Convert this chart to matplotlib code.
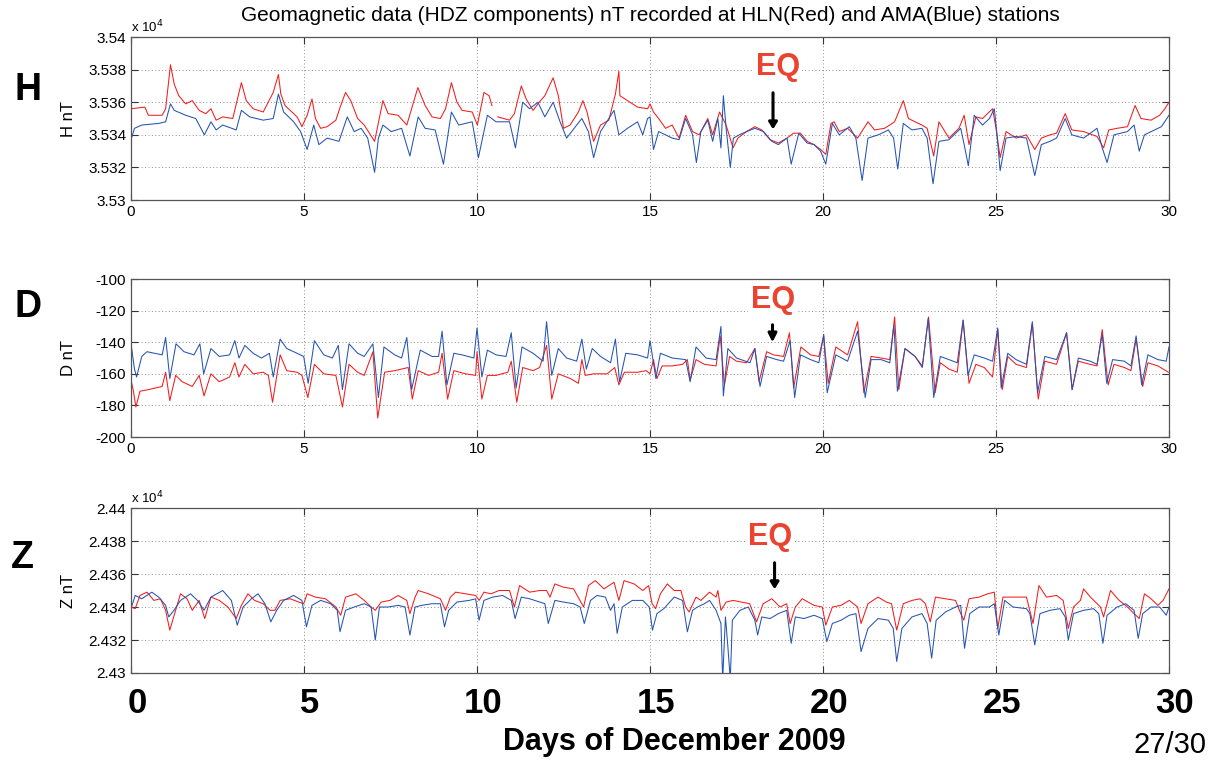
import numpy as np
import matplotlib
matplotlib.use("Agg")
import matplotlib.pyplot as plt
from matplotlib.ticker import FuncFormatter, MultipleLocator
from matplotlib.transforms import ScaledTranslation

plt.rcParams['font.family'] = ['Liberation Sans', 'DejaVu Sans']

nan = np.nan

# ---- H component (nT), HLN = red, AMA = blue ----
h_hln_days = [0.0, 0.4, 0.5, 0.9, 1.0, 1.14, 1.25, 1.38, 1.58, 1.77, 1.97, 2.16, 2.31, 2.46, 2.65, 2.94,
              3.19, 3.33, 3.53, 3.82, 4.11, 4.26, 4.33, 4.45, 4.6, 4.8, 4.94, 5.09, 5.23, 5.33, 5.48,
              5.67, 5.92, 6.06, 6.2, 6.35, 6.55, 6.74, 7.04, 7.28, 7.43, 7.72, 7.97, 8.29, 8.5, 8.7,
              8.94, 9.09, 9.26, 9.42, 9.57, 9.86, 10.01, 10.2, 10.35, 10.43, 10.5, 10.6, 10.94, 11.08,
              11.28, 11.42, 11.62, 11.76, 11.96, 12.2, 12.35, 12.5, 12.69, 12.93, 13.06, 13.18, 13.37,
              13.57, 13.81, 14.0, 14.1, 14.13, 14.35, 14.64, 14.93, 15.0, 15.1, 15.25, 15.45, 15.64,
              15.84, 16.03, 16.23, 16.42, 16.67, 16.81, 17.01, 17.2, 17.4, 17.54, 17.79, 18.03, 18.23,
              18.47, 18.71, 18.96, 19.15, 19.35, 19.54, 19.74, 19.93, 20.08, 20.23, 20.32, 20.47, 20.71,
              21.0, 21.3, 21.49, 21.78, 22.07, 22.32, 22.47, 22.66, 22.86, 23.01, 23.2, 23.35, 23.64,
              23.93, 24.08, 24.22, 24.42, 24.61, 24.9, 25.0, 25.12, 25.29, 25.58, 25.88, 26.12, 26.31,
              26.56, 26.75, 27.0, 27.19, 27.53, 27.92, 28.11, 28.26, 28.5, 28.8, 29.02, 29.19, 29.48,
              29.73, 29.88, 30.0]
h_hln = [35356, 35357, 35352, 35352, 35356, 35383, 35371, 35364, 35359, 35361, 35355, 35353, 35356, 35349,
         35351, 35350, 35372, 35361, 35356, 35354, 35366, 35377, 35365, 35358, 35355, 35351, 35345, 35352,
         35362, 35350, 35344, 35345, 35349, 35358, 35366, 35361, 35350, 35346, 35336, 35361, 35353, 35352,
         35346, 35369, 35358, 35351, 35350, 35356, 35372, 35360, 35355, 35354, 35346, 35366, 35364, 35358,
         nan, 35351, 35349, 35353, 35370, 35362, 35355, 35359, 35364, 35375, 35364, 35344, 35346, 35354,
         35361, 35354, 35336, 35346, 35349, 35365, 35379, 35364, 35361, 35357, 35356, 35359, 35354, 35350,
         35344, 35346, 35338, 35352, 35342, 35340, 35350, 35340, 35354, 35346, 35332, 35338, 35342, 35345,
         35343, 35337, 35335, 35338, 35341, 35341, 35336, 35334, 35331, 35328, 35347, 35348, 35342, 35344,
         35338, 35348, 35343, 35344, 35348, 35361, 35350, 35348, 35346, 35344, 35327, 35348, 35338, 35344,
         35352, 35334, 35351, 35350, 35356, 35344, 35326, 35342, 35338, 35340, 35331, 35338, 35340, 35341,
         35353, 35343, 35342, 35339, 35332, 35343, 35344, 35345, 35358, 35350, 35349, 35352, 35356, 35360]

h_ama_days = [0.0, 0.1, 0.31, 0.8, 1.0, 1.14, 1.25, 1.58, 1.87, 2.12, 2.31, 2.46, 2.65, 3.04, 3.19, 3.43,
              3.82, 4.11, 4.26, 4.41, 4.7, 4.9, 5.09, 5.28, 5.43, 5.67, 6.01, 6.25, 6.45, 6.65, 6.84,
              7.04, 7.15, 7.28, 7.52, 7.82, 8.06, 8.3, 8.5, 8.79, 9.03, 9.26, 9.47, 9.86, 10.04, 10.3,
              10.55, 10.94, 11.11, 11.32, 11.52, 11.76, 11.96, 12.2, 12.4, 12.59, 12.88, 13.03, 13.22,
              13.37, 13.57, 13.96, 14.1, 14.35, 14.64, 14.79, 14.93, 15.0, 15.1, 15.25, 15.45, 15.64,
              15.84, 16.03, 16.23, 16.34, 16.47, 16.67, 16.81, 16.96, 17.05, 17.12, 17.2, 17.32, 17.41,
              17.58, 17.79, 18.03, 18.28, 18.52, 18.71, 18.96, 19.08, 19.3, 19.54, 19.74, 19.93, 20.08,
              20.27, 20.47, 20.76, 20.95, 21.13, 21.3, 21.6, 21.89, 22.04, 22.16, 22.32, 22.57, 22.86,
              23.01, 23.18, 23.35, 23.64, 23.98, 24.08, 24.2, 24.37, 24.61, 24.81, 24.95, 25.02, 25.12,
              25.29, 25.58, 25.88, 26.12, 26.31, 26.56, 26.75, 27.0, 27.19, 27.53, 27.92, 28.07, 28.21,
              28.41, 28.8, 28.99, 29.14, 29.29, 29.58, 29.78, 30.0]
h_ama = [35337, 35344, 35346, 35347, 35348, 35359, 35355, 35352, 35350, 35340, 35348, 35343, 35346, 35343,
         35355, 35351, 35349, 35350, 35365, 35354, 35348, 35342, 35331, 35346, 35334, 35338, 35336, 35351,
         35342, 35344, 35338, 35317, 35338, 35346, 35342, 35344, 35327, 35351, 35344, 35343, 35322, 35354,
         35346, 35348, 35326, 35352, 35348, 35348, 35332, 35360, 35356, 35360, 35351, 35360, 35348, 35338,
         35346, 35350, 35342, 35326, 35342, 35355, 35340, 35344, 35348, 35340, 35350, 35351, 35331, 35342,
         35340, 35338, 35337, 35350, 35340, 35323, 35342, 35349, 35336, 35350, 35332, 35364, 35344, 35320,
         35338, 35340, 35342, 35344, 35342, 35336, 35334, 35338, 35322, 35341, 35335, 35334, 35330, 35322,
         35347, 35340, 35345, 35338, 35312, 35338, 35340, 35343, 35338, 35319, 35347, 35343, 35344, 35338,
         35310, 35336, 35337, 35344, 35334, 35321, 35352, 35346, 35350, 35356, 35342, 35318, 35338, 35339,
         35338, 35315, 35334, 35336, 35338, 35350, 35340, 35338, 35344, 35332, 35323, 35340, 35342, 35346,
         35330, 35340, 35343, 35345, 35352]

# ---- D component (nT) ----
d_hln_days = [0.0, 0.07, 0.14, 0.26, 0.5, 0.9, 1.0, 1.12, 1.29, 1.48, 1.77, 1.97, 2.11, 2.31, 2.55, 2.85,
              3.0, 3.12, 3.29, 3.53, 3.82, 3.97, 4.09, 4.31, 4.5, 4.8, 4.94, 5.11, 5.3, 5.57, 5.92, 6.11,
              6.3, 6.55, 6.74, 6.99, 7.13, 7.33, 7.62, 8.01, 8.13, 8.3, 8.6, 8.89, 8.99, 9.15, 9.33,
              9.67, 9.96, 10.0, 10.14, 10.3, 10.55, 10.89, 10.99, 11.15, 11.32, 11.62, 11.81, 12.01,
              12.16, 12.35, 12.7, 12.93, 13.03, 13.13, 13.37, 13.76, 13.98, 14.1, 14.26, 14.64, 14.89,
              15.0, 15.1, 15.2, 15.35, 15.64, 15.94, 16.08, 16.16, 16.33, 16.57, 16.91, 17.03, 17.15,
              17.3, 17.5, 17.79, 18.03, 18.15, 18.37, 18.57, 18.86, 19.03, 19.15, 19.36, 19.64, 19.88,
              20.02, 20.15, 20.37, 20.71, 21.0, 21.18, 21.39, 21.68, 21.93, 22.07, 22.19, 22.37, 22.66,
              22.87, 23.05, 23.24, 23.39, 23.64, 23.88, 24.05, 24.22, 24.42, 24.66, 24.9, 25.05, 25.18,
              25.34, 25.58, 25.88, 26.05, 26.22, 26.41, 26.75, 27.04, 27.2, 27.38, 27.72, 27.92, 28.07,
              28.24, 28.41, 28.71, 28.9, 29.05, 29.24, 29.39, 29.68, 29.98]
d_hln = [-164, -171, -181, -171, -170, -168, -159, -177, -161, -165, -168, -161, -174, -160, -165, -162,
         -153, -162, -154, -160, -159, -161, -178, -148, -158, -159, -161, -175, -154, -160, -161, -181,
         -154, -159, -161, -146, -188, -159, -158, -156, -176, -158, -161, -159, -147, -176, -158,
         -160, -161, -146, -176, -161, -161, -159, -152, -178, -156, -158, -156, -142,
         -176, -160, -163, -166, -151, -161, -160, -160, -156, -167, -159, -159, -158,
         -160, -151, -163, -155, -155, -154, -151, -164, -151, -154, -155, -136, -167,
         -149, -152, -153, -144, -165, -146, -148, -149, -134, -169, -143, -148, -149,
         -136, -166, -143, -148, -127, -172, -149, -150, -151, -124, -170, -144, -149,
         -155, -124, -172, -153, -157, -159, -126, -166, -154, -156, -162, -132, -170,
         -149, -154, -156, -128, -176, -152, -154, -134, -170, -152, -154, -155, -132,
         -167, -154, -156, -158, -138, -168, -153, -155, -159]

d_ama_days = [0.0, 0.1, 0.16, 0.31, 0.46, 0.9, 1.0, 1.12, 1.3, 1.53, 1.82, 1.99, 2.1, 2.31, 2.55, 2.85,
              3.0, 3.12, 3.29, 3.53, 3.77, 4.0, 4.11, 4.31, 4.5, 4.8, 4.99, 5.12, 5.3, 5.57, 5.82, 5.99,
              6.11, 6.3, 6.55, 6.74, 6.99, 7.15, 7.31, 7.62, 7.82, 7.97, 8.11, 8.36, 8.7, 8.89, 8.99,
              9.13, 9.33, 9.57, 9.91, 10.0, 10.14, 10.3, 10.55, 10.84, 10.99, 11.13, 11.3, 11.62, 11.91,
              12.01, 12.16, 12.35, 12.59, 12.88, 13.03, 13.16, 13.33, 13.57, 13.86, 14.0, 14.12, 14.3,
              14.64, 14.93, 15.0, 15.17, 15.3, 15.64, 16.03, 16.16, 16.33, 16.62, 16.91, 17.05, 17.12,
              17.25, 17.5, 17.89, 18.03, 18.18, 18.37, 18.66, 18.86, 19.05, 19.18, 19.35, 19.64, 19.88,
              20.02, 20.12, 20.37, 20.71, 21.0, 21.22, 21.39, 21.68, 21.93, 22.05, 22.15, 22.37, 22.66,
              22.87, 23.04, 23.2, 23.39, 23.64, 23.88, 24.05, 24.19, 24.37, 24.66, 24.9, 25.05, 25.15,
              25.34, 25.58, 25.88, 26.05, 26.2, 26.41, 26.75, 27.04, 27.2, 27.38, 27.72, 27.92, 28.07,
              28.2, 28.37, 28.71, 28.9, 29.05, 29.21, 29.39, 29.68, 29.92, 30.0]
d_ama = [-141, -157, -162, -149, -146, -148, -137, -163, -141, -146, -148, -141, -160, -144, -149, -148,
         -139, -150, -142, -147, -150, -147, -162, -138, -144, -147, -149, -166, -139, -148, -150, -142,
         -170, -141, -147, -149, -141, -175, -143, -148, -150, -137, -170, -145, -149, -149, -133,
         -167, -147, -148, -150, -131, -162, -145, -148, -149, -134, -169, -143, -147, -152,
         -127, -161, -144, -150, -152, -138, -157, -144, -149, -153, -138, -165, -147,
         -148, -150, -139, -163, -147, -150, -151, -165, -143, -150, -151, -130, -174,
         -144, -150, -153, -144, -168, -149, -151, -152, -139, -175, -148, -151, -153,
         -135, -172, -148, -152, -133, -175, -151, -151, -153, -129, -171, -144, -149,
         -156, -125, -175, -149, -151, -153, -126, -161, -148, -150, -152, -131, -169,
         -147, -151, -154, -127, -172, -149, -151, -134, -170, -150, -152, -154, -135,
         -166, -151, -152, -155, -136, -167, -148, -151, -152, -143]

# ---- Z component (nT) ----
z_hln_days = [0.0, 0.12, 0.26, 0.46, 0.66, 0.85, 1.0, 1.12, 1.29, 1.43, 1.62, 1.77, 1.97, 2.13, 2.31, 2.55,
              2.8, 3.04, 3.19, 3.38, 3.57, 3.82, 4.02, 4.16, 4.31, 4.6, 4.85, 4.99, 5.09, 5.33, 5.62,
              5.92, 6.06, 6.2, 6.5, 6.74, 6.94, 7.06, 7.23, 7.48, 7.72, 7.97, 8.06, 8.21, 8.3, 8.6, 8.94,
              9.09, 9.23, 9.38, 9.67, 9.96, 10.06, 10.2, 10.4, 10.64, 10.94, 11.08, 11.23, 11.52, 11.81,
              12.01, 12.11, 12.25, 12.5, 12.79, 13.08, 13.22, 13.42, 13.67, 13.96, 14.1, 14.25, 14.54,
              14.79, 14.96, 15.06, 15.16, 15.3, 15.5, 15.7, 15.89, 16.03, 16.13, 16.33, 16.47, 16.72,
              16.91, 16.96, 17.05, 17.2, 17.4, 17.64, 17.88, 18.08, 18.27, 18.52, 18.76, 18.95, 19.05,
              19.2, 19.4, 19.74, 19.98, 20.08, 20.27, 20.52, 20.76, 21.0, 21.1, 21.3, 21.59, 21.83,
              21.98, 22.13, 22.32, 22.57, 22.81, 22.96, 23.1, 23.25, 23.54, 23.83, 23.98, 24.07, 24.22,
              24.51, 24.76, 24.95, 25.05, 25.2, 25.49, 25.88, 26.07, 26.24, 26.46, 26.75, 26.94, 27.09,
              27.24, 27.44, 27.53, 27.73, 28.02, 28.11, 28.31, 28.56, 28.8, 28.99, 29.14, 29.29, 29.48,
              29.68, 29.83, 30.0]
z_hln = [24340, 24339, 24347, 24349, 24344, 24345, 24338, 24326, 24338, 24348, 24345, 24338, 24344, 24333,
         24346, 24344, 24340, 24333, 24341, 24348, 24344, 24342, 24338, 24338, 24344, 24345, 24343, 24342,
         24348, 24346, 24345, 24340, 24335, 24346, 24348, 24344, 24340, 24338, 24343, 24344, 24347, 24344,
         24336, 24346, 24350, 24348, 24345, 24338, 24346, 24349, 24348, 24347, 24344, 24349, 24348, 24350,
         24350, 24340, 24353, 24349, 24350, 24350, 24346, 24354, 24352, 24351, 24340, 24353, 24356, 24351,
         24355, 24344, 24356, 24354, 24350, 24353, 24342, 24339, 24348, 24354, 24350, 24350, 24340, 24337,
         24346, 24344, 24349, 24346, 24350, 24338, 24343, 24344, 24343, 24342, 24331, 24342, 24345, 24340,
         24342, 24330, 24340, 24345, 24341, 24340, 24329, 24340, 24341, 24344, 24340, 24330, 24342, 24346,
         24343, 24342, 24326, 24342, 24344, 24345, 24342, 24331, 24346, 24345, 24344, 24336, 24332, 24345,
         24346, 24348, 24349, 24327, 24346, 24346, 24346, 24330, 24353, 24346, 24347, 24344, 24327, 24340,
         24344, 24351, 24346, 24340, 24334, 24350, 24344, 24340, 24336, 24333, 24348, 24345, 24341, 24344,
         24351]

z_ama_days = [0.0, 0.12, 0.31, 0.6, 0.8, 1.0, 1.09, 1.24, 1.43, 1.72, 1.92, 2.11, 2.31, 2.65, 2.9, 3.07,
              3.24, 3.48, 3.67, 3.87, 4.04, 4.21, 4.41, 4.7, 4.94, 5.07, 5.23, 5.48, 5.77, 5.96, 6.04, 6.2,
              6.45, 6.74, 6.94, 7.06, 7.18, 7.43, 7.72, 7.92, 8.06, 8.21, 8.4, 8.7, 8.94, 9.06, 9.18,
              9.42, 9.77, 9.96, 10.06, 10.2, 10.45, 10.74, 10.99, 11.1, 11.28, 11.52, 11.81, 11.96, 12.06,
              12.25, 12.5, 12.79, 12.98, 13.1, 13.28, 13.47, 13.71, 13.86, 13.96, 14.05, 14.2, 14.49,
              14.79, 14.98, 15.07, 15.2, 15.4, 15.7, 15.94, 16.08, 16.23, 16.37, 16.57, 16.72, 16.91,
              17.05, 17.1, 17.18, 17.25, 17.32, 17.38, 17.6, 17.84, 18.03, 18.11, 18.23, 18.47, 18.71,
              18.95, 19.08, 19.2, 19.45, 19.74, 19.98, 20.11, 20.27, 20.52, 20.76, 20.95, 21.1, 21.3,
              21.59, 21.89, 22.03, 22.13, 22.28, 22.57, 22.86, 23.01, 23.14, 23.27, 23.54, 23.83, 23.98,
              24.09, 24.24, 24.51, 24.81, 24.95, 25.08, 25.25, 25.49, 25.88, 25.98, 26.12, 26.27, 26.56,
              26.85, 27.0, 27.09, 27.24, 27.53, 27.82, 27.97, 28.09, 28.21, 28.5, 28.75, 28.99, 29.11,
              29.24, 29.48, 29.73, 29.92, 30.0]
z_ama = [24339, 24347, 24345, 24349, 24346, 24341, 24334, 24338, 24344, 24348, 24344, 24338, 24346, 24350,
         24344, 24329, 24340, 24345, 24348, 24342, 24331, 24338, 24344, 24347, 24344, 24328, 24341, 24344,
         24342, 24338, 24325, 24338, 24340, 24342, 24340, 24320, 24340, 24340, 24341, 24340, 24323, 24340,
         24341, 24342, 24342, 24328, 24338, 24343, 24344, 24345, 24332, 24344, 24346, 24347, 24344, 24333,
         24346, 24345, 24343, 24342, 24330, 24344, 24343, 24342, 24340, 24330, 24344, 24347, 24346, 24338,
         24342, 24324, 24340, 24344, 24344, 24340, 24326, 24336, 24339, 24346, 24344, 24325, 24338, 24340,
         24342, 24344, 24338, 24330, 24296, 24334, 24316, 24296, 24332, 24338, 24340, 24332, 24323, 24334,
         24333, 24336, 24338, 24318, 24334, 24333, 24335, 24333, 24319, 24330, 24332, 24335, 24336, 24313,
         24327, 24333, 24332, 24327, 24307, 24327, 24334, 24336, 24330, 24309, 24332, 24337, 24340, 24341,
         24315, 24336, 24340, 24340, 24342, 24323, 24344, 24340, 24339, 24336, 24317, 24336, 24338, 24339,
         24334, 24320, 24336, 24338, 24339, 24336, 24318, 24335, 24340, 24342, 24338, 24321, 24336, 24340,
         24340, 24335, 24340]

day_ticks = [0, 5, 10, 15, 20, 25, 30]

RED = '#f21c1c'
BLUE = '#2553b3'
EQ_COLOR = '#ea4330'

fig = plt.figure(figsize=(12.2, 7.62), dpi=100)

panels = [
    dict(rect=[0.1074, 0.7375, 0.8508, 0.2139], red=(h_hln_days, h_hln), blue=(h_ama_days, h_ama),
         ylim=(35300, 35400), ylabel='H nT', letter='H', letter_xy=(0.023, 0.882),
         fmt=lambda v, p: f"{v / 1e4:g}", sci=True,
         eq_text=(0.623, 0.816), arrow=(0.6185, 0.675, 0.417), head=8),
    dict(rect=[0.1074, 0.4265, 0.8508, 0.2073], red=(d_hln_days, d_hln), blue=(d_ama_days, d_ama),
         ylim=(-200, -100), ylabel='D nT', letter='D', letter_xy=(0.023, 0.597),
         fmt=lambda v, p: f"{v:g}", sci=False,
         eq_text=(0.6185, 0.867), arrow=(0.618, 0.728, 0.582), head=10),
    dict(rect=[0.1074, 0.1168, 0.8508, 0.2165], red=(z_hln_days, z_hln), blue=(z_ama_days, z_ama),
         ylim=(24300, 24400), ylabel='Z nT', letter='Z', letter_xy=(0.018, 0.268),
         fmt=lambda v, p: f"{v / 1e4:g}", sci=True,
         eq_text=(0.6156, 0.824), arrow=(0.620, 0.685, 0.491), head=8),
]

for i, p in enumerate(panels):
    ax = fig.add_axes(p['rect'])
    ax.plot(*p['red'], color=RED, lw=0.75)
    ax.plot(*p['blue'], color=BLUE, lw=0.75)
    ax.set_xlim(0, 30)
    ax.set_ylim(*p['ylim'])
    ax.xaxis.set_major_locator(MultipleLocator(5))
    ax.yaxis.set_major_locator(MultipleLocator(20))
    ax.yaxis.set_major_formatter(FuncFormatter(p['fmt']))
    ax.grid(True, color='#8c8c8c', linestyle=(0, (1, 2.5)), linewidth=0.7)
    ax.tick_params(direction='in', top=True, right=True, length=5, width=0.8,
                   labelsize=11, color='#333333')
    for s in ax.spines.values():
        s.set_color('#555555')
        s.set_linewidth(0.9)
    ax.set_ylabel(p['ylabel'], fontsize=12)
    ax.yaxis.set_label_coords(-0.053, 0.5)
    if p['sci']:
        ax.text(0.0, 1.012, r'x 10$^{4}$', transform=ax.transAxes, fontsize=9.5, va='bottom', ha='left')
    if i == 2:
        ax.set_xticks(day_ticks)
        ax.tick_params(axis='x', labelsize=25, pad=10)
        shift = ScaledTranslation(6 / 100, 0, fig.dpi_scale_trans)
        for lab in ax.get_xticklabels():
            lab.set_fontweight('bold')
            lab.set_transform(lab.get_transform() + shift)
    fig.text(*p['letter_xy'], p['letter'], fontsize=27, fontweight='bold', ha='center', va='center')

    # EQ marker
    ax.text(*p['eq_text'], 'EQ', transform=ax.transAxes, color=EQ_COLOR, fontsize=22,
            fontweight='bold', ha='center', va='center',
            bbox=dict(facecolor='white', edgecolor='none', pad=2))
    ax_x, y0, y1 = p['arrow']
    ax.annotate('', xy=(ax_x, y1), xytext=(ax_x, y0), xycoords='axes fraction',
                arrowprops=dict(arrowstyle=f'-|>,head_length={p["head"] / 20:.2f},head_width=0.25',
                                color='black', lw=2.2))

fig.text(0.533, 0.980, 'Geomagnetic data (HDZ components) nT recorded at HLN(Red) and AMA(Blue) stations',
         ha='center', va='center', fontsize=15)
fig.text(0.553, 0.026, 'Days of December 2009', ha='center', va='center', fontsize=22, fontweight='bold')
fig.text(0.959, 0.022, '27/30', ha='center', va='center', fontsize=21)

fig.savefig('out.png', dpi=100)
